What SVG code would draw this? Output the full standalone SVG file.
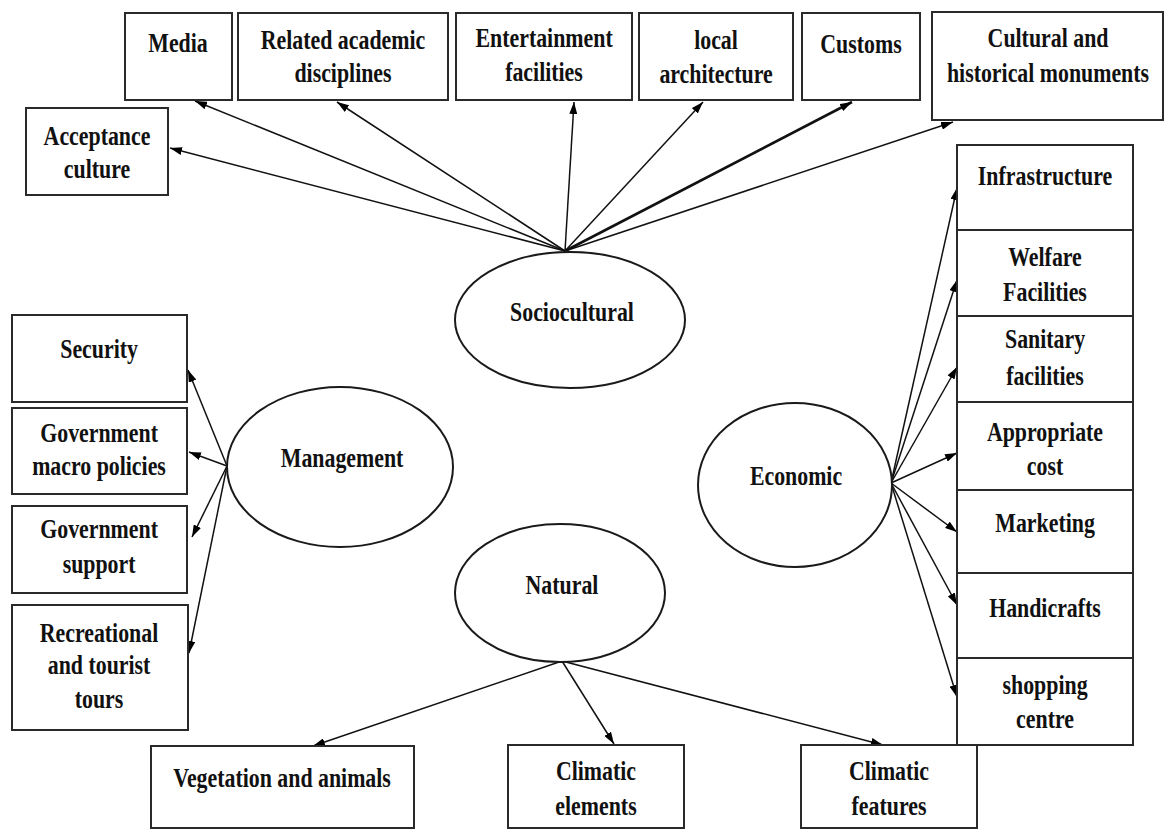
<svg xmlns="http://www.w3.org/2000/svg" width="1166" height="830" viewBox="0 0 1166 830">
<style>
.box{fill:#fff;stroke:#2a2a2a;stroke-width:2}
.ell{fill:#fff;stroke:#1a1a1a;stroke-width:2}
.t{font-family:"Liberation Serif","Times New Roman",serif;font-weight:bold;font-size:27px;text-anchor:middle;fill:#111;transform-box:fill-box;transform-origin:center;transform:scaleX(0.81)}
.c{stroke:#111;stroke-width:1.5;fill:none;marker-end:url(#ah)}
.thick{stroke-width:2.6}
</style>
<defs>
<marker id="ah" viewBox="0 0 12 8" refX="12" refY="4" markerWidth="12" markerHeight="8" orient="auto" markerUnits="userSpaceOnUse">
<path d="M0,0 L12,4 L0,8 z" fill="#000"/>
</marker>
</defs>
<rect width="1166" height="830" fill="#fff"/>

<g id="connectors">
<line class="c" x1="565" y1="251" x2="170" y2="148"/>
<line class="c" x1="565" y1="251" x2="195" y2="101"/>
<line class="c" x1="565" y1="251" x2="337" y2="102"/>
<line class="c" x1="565" y1="251" x2="574" y2="102"/>
<line class="c" x1="565" y1="251" x2="703" y2="102"/>
<line class="c thick" x1="565" y1="251" x2="852" y2="102"/>
<line class="c" x1="565" y1="251" x2="953" y2="122"/>
<line class="c" x1="227" y1="466" x2="188" y2="370"/>
<line class="c" x1="227" y1="466" x2="189" y2="452"/>
<line class="c" x1="227" y1="466" x2="192" y2="537"/>
<line class="c" x1="227" y1="466" x2="189" y2="653"/>
<line class="c" x1="891" y1="483" x2="957" y2="188"/>
<line class="c" x1="891" y1="483" x2="957" y2="280"/>
<line class="c" x1="891" y1="483" x2="957" y2="367"/>
<line class="c" x1="891" y1="483" x2="957" y2="453"/>
<line class="c" x1="891" y1="483" x2="957" y2="532"/>
<line class="c" x1="891" y1="483" x2="957" y2="605"/>
<line class="c" x1="891" y1="483" x2="957" y2="697"/>
<line class="c" x1="562" y1="661" x2="313" y2="746"/>
<line class="c" x1="562" y1="661" x2="614" y2="744"/>
<line class="c" x1="562" y1="661" x2="883" y2="745"/>
</g>

<g id="sociocultural"><ellipse class="ell" cx="570" cy="320" rx="115" ry="68"/><text class="t" x="572" y="321">Sociocultural</text></g>
<g id="management"><ellipse class="ell" cx="340" cy="467" rx="113" ry="80"/><text class="t" x="342" y="467">Management</text></g>
<g id="economic"><ellipse class="ell" cx="795" cy="485" rx="97" ry="82"/><text class="t" x="796" y="485">Economic</text></g>
<g id="natural"><ellipse class="ell" cx="560" cy="593" rx="105" ry="69"/><text class="t" x="562" y="594">Natural</text></g>

<g id="media"><rect class="box" x="125" y="13" width="107" height="87"/><text class="t" x="178" y="52">Media</text></g>
<g id="related"><rect class="box" x="238" y="13" width="210" height="87"/><text class="t" x="343" y="49">Related academic</text><text class="t" x="343" y="82">disciplines</text></g>
<g id="entertainment"><rect class="box" x="456" y="13" width="176" height="87"/><text class="t" x="544" y="47">Entertainment</text><text class="t" x="544" y="81">facilities</text></g>
<g id="local"><rect class="box" x="639" y="13" width="154" height="87"/><text class="t" x="716" y="49">local</text><text class="t" x="716" y="83">architecture</text></g>
<g id="customs"><rect class="box" x="802" y="13" width="118" height="87"/><text class="t" x="861" y="53">Customs</text></g>
<g id="cultural"><rect class="box" x="932" y="12" width="231" height="108"/><text class="t" x="1048" y="47">Cultural and</text><text class="t" x="1048" y="82">historical monuments</text></g>
<g id="acceptance"><rect class="box" x="26" y="108" width="142" height="87"/><text class="t" x="97" y="145">Acceptance</text><text class="t" x="97" y="178">culture</text></g>

<g id="infrastructure"><rect class="box" x="957" y="145" width="176" height="85"/><text class="t" x="1045" y="185">Infrastructure</text></g>
<g id="welfare"><rect class="box" x="957" y="230" width="176" height="86"/><text class="t" x="1045" y="266">Welfare</text><text class="t" x="1045" y="301">Facilities</text></g>
<g id="sanitary"><rect class="box" x="957" y="316" width="176" height="86"/><text class="t" x="1045" y="348">Sanitary</text><text class="t" x="1045" y="385">facilities</text></g>
<g id="appropriate"><rect class="box" x="957" y="402" width="176" height="88"/><text class="t" x="1045" y="441">Appropriate</text><text class="t" x="1045" y="475">cost</text></g>
<g id="marketing"><rect class="box" x="957" y="490" width="176" height="83"/><text class="t" x="1045" y="532">Marketing</text></g>
<g id="handicrafts"><rect class="box" x="957" y="573" width="176" height="85"/><text class="t" x="1045" y="617">Handicrafts</text></g>
<g id="shopping"><rect class="box" x="957" y="658" width="176" height="87"/><text class="t" x="1045" y="694">shopping</text><text class="t" x="1045" y="728">centre</text></g>

<g id="security"><rect class="box" x="12" y="315" width="175" height="87"/><text class="t" x="99" y="358">Security</text></g>
<g id="macro"><rect class="box" x="12" y="408" width="175" height="86"/><text class="t" x="99" y="442">Government</text><text class="t" x="99" y="475">macro policies</text></g>
<g id="support"><rect class="box" x="12" y="506" width="175" height="87"/><text class="t" x="99" y="538">Government</text><text class="t" x="99" y="573">support</text></g>
<g id="recreational"><rect class="box" x="12" y="605" width="176" height="125"/><text class="t" x="99" y="642">Recreational</text><text class="t" x="99" y="674">and tourist</text><text class="t" x="99" y="708">tours</text></g>

<g id="vegetation"><rect class="box" x="151" y="746" width="263" height="82"/><text class="t" x="282" y="787">Vegetation and animals</text></g>
<g id="climatic-elements"><rect class="box" x="508" y="745" width="176" height="83"/><text class="t" x="596" y="780">Climatic</text><text class="t" x="596" y="815">elements</text></g>
<g id="climatic-features"><rect class="box" x="801" y="745" width="176" height="83"/><text class="t" x="889" y="780">Climatic</text><text class="t" x="889" y="815">features</text></g>
</svg>
